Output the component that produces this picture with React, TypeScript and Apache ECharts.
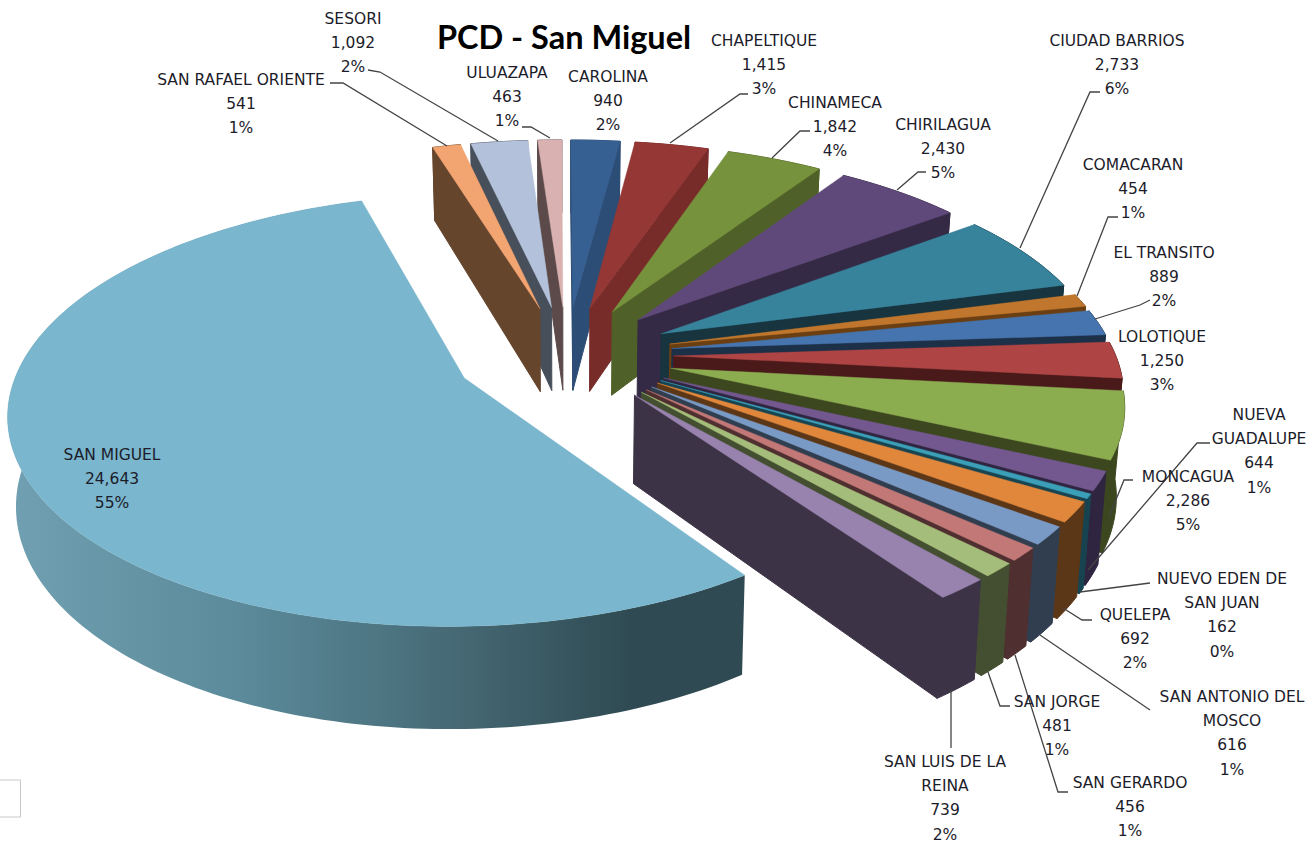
import React, { useEffect, useRef } from "react";
import * as echarts from "echarts";

const names = ["CAROLINA","CHAPELTIQUE","CHINAMECA","CHIRILAGUA","CIUDAD BARRIOS","COMACARAN","EL TRANSITO","LOLOTIQUE","MONCAGUA","NUEVA\nGUADALUPE","NUEVO EDEN DE\nSAN JUAN","QUELEPA","SAN ANTONIO DEL\nMOSCO","SAN GERARDO","SAN JORGE","SAN LUIS DE LA\nREINA","SAN MIGUEL","SAN RAFAEL ORIENTE","SESORI","ULUAZAPA"];
const values = [940,1415,1842,2430,2733,454,889,1250,2286,644,162,692,616,456,481,739,24643,541,1092,463];
const topColors = ["#376092","#953735","#76923c","#5f497a","#38839c","#c0772d","#4674ae","#ae4544","#8cac50","#73588f","#3b9fb8","#e0873c","#7a9ac6","#c27876","#a5bd7a","#9882ae","#7ab6cd","#f3a571","#b3c2da","#d9b1b1"];
const wallColors = ["#2c4d75","#772c2a","#4f6128","#352a45","#17343f","#6b3f12","#1c3048","#4a1a1a","#3c4720","#2f2540","#174450","#5b3717","#313e50","#4f2f30","#434f30","#3d3346","#2f4a52","#66452d","#474f5b","#5c4a4a"];

// label anchors: centre x, first line y, and leader polyline
const labelX = [608,764,835,943,1117,1133,1164,1162,1188,1259,1222,1135,1232,1130,1057,945,112,241,353,507];
const labelY = [76,40,102,124,40,164,252,336,476,414,578,614,696,782,701,761,454,79,18,72];
const leaders: number[][][] = [
  [],
  [[748,94],[740,94],[670,143]],
  [[810,131],[800,131],[772,158]],
  [[926,172],[918,172],[897,190]],
  [[1100,92],[1090,92],[1020,248]],
  [[1118,217],[1108,217],[1077,296]],
  [[1150,300],[1140,305],[1095,319]],
  [],
  [[1133,480],[1124,480],[1109,517]],
  [[1210,443],[1197,443],[1088,570]],
  [[1150,583],[1080,592]],
  [[1092,620],[1082,620],[1063,608]],
  [[1150,710],[1040,635]],
  [[1068,792],[1058,792],[1015,655]],
  [[1010,706],[1000,706],[988,672]],
  [[951,748],[951,690]],
  [],
  [[330,83],[343,83],[447,146]],
  [[368,70],[380,72],[498,141]],
  [[522,127],[531,127],[550,138]],
];

const CX = 566.5, CY = 355, R = 442, EXPLODE = 107, EXPLODE_MAIN = 112, TILT = 0.463, PERSP = 0.000331, H = 86, TAPER = 0.985, SKEW = 0.003;
const total = values.reduce((a, b) => a + b, 0);
const starts: number[] = [];
values.reduce((acc, v, i) => { starts[i] = (acc / total) * Math.PI * 2; return acc + v; }, 0);
const ends = values.map((v, i) => starts[i] + (v / total) * Math.PI * 2);

const project = (X: number, Y: number, bottom: boolean): number[] => {
  const s = 1 / (1 + PERSP * Y);
  let x = CX + X * s - Y * SKEW;
  let y = CY - Y * TILT * s;
  if (bottom) { x = CX + (x - CX) * TAPER; y += H * s; }
  return [x, y];
};
const area = (p: number[][]) => p.reduce((a, q, i) => { const r = p[(i + 1) % p.length]; return a + q[0] * r[1] - r[0] * q[1]; }, 0);

const sliceElements = (i: number) => {
  const a0 = starts[i], a1 = ends[i], mid = (a0 + a1) / 2;
  const isMain = names[i] === "SAN MIGUEL";
  const e = isMain ? EXPLODE_MAIN : EXPLODE;
  const ox = e * Math.sin(mid), oy = e * Math.cos(mid);
  const n = Math.max(3, Math.ceil((a1 - a0) / 0.02));
  const arcT: number[][] = [], arcB: number[][] = [];
  for (let k = 0; k <= n; k++) {
    const t = a0 + ((a1 - a0) * k) / n;
    const X = ox + R * Math.sin(t), Y = oy + R * Math.cos(t);
    arcT.push(project(X, Y, false));
    arcB.push(project(X, Y, true));
  }
  const apexT = project(ox, oy, false), apexB = project(ox, oy, true);
  const children: any[] = [];
  const poly = (points: number[][], fill: any, lineWidth: number) => ({
    type: "polygon", shape: { points }, style: { fill, stroke: typeof fill === "string" ? fill : undefined, lineWidth: typeof fill === "string" ? lineWidth : 0 },
  });
  let outerFill: any = wallColors[i];
  if (isMain) {
    outerFill = { type: "linear", x: 18, y: 0, x2: 740, y2: 0, global: true, colorStops: [
      { offset: 0, color: "#6f9fb0" }, { offset: 0.3, color: "#5c8b9b" }, { offset: 0.6, color: "#466a76" }, { offset: 0.85, color: "#2f4a52" }, { offset: 1, color: "#2f4a52" },
    ] };
  }
  children.push(poly([...arcT, ...arcB.slice().reverse()], outerFill, 1));
  const startWall = [apexT, arcT[0], arcB[0], apexB];
  const endWall = [apexT, arcT[n], arcB[n], apexB];
  if (area(startWall) < 0) children.push(poly(startWall, wallColors[i], 1));
  if (area(endWall) > 0) children.push(poly(endWall, wallColors[i], 1));
  children.push(poly([apexT, ...arcT], topColors[i], 0.4));
  return children;
};

const order = values.map((_, i) => i).sort((a, b) => Math.cos((starts[b] + ends[b]) / 2) - Math.cos((starts[a] + ends[a]) / 2));
const LABEL_FONT = "DejaVu Sans";

export default function App() {
  const ref = useRef<HTMLDivElement>(null);
  useEffect(() => {
    const chart = echarts.init(ref.current!, undefined, { renderer: "svg" });
    const labels: any[] = values.map((v, i) => ({
      type: "text", x: labelX[i], y: labelY[i] - 11.5, z: 20,
      style: {
        text: `${names[i]}\n${v.toLocaleString("en-US")}\n${Math.round((v / total) * 100)}%`,
        fill: "#1c1c2a", font: `15.5px "${LABEL_FONT}"`, align: "center", verticalAlign: "top", lineHeight: 24.3,
      },
    }));
    const lines: any[] = leaders.filter((l) => l.length).map((points) => ({
      type: "polyline", z: 15, shape: { points }, style: { stroke: "#444", lineWidth: 1.3, fill: "none" },
    }));
    chart.setOption({
      animation: false,
      backgroundColor: "#fff",
      graphic: [
        { type: "text", x: 564, y: 36, z: 20, style: { text: "PCD - San Miguel", fill: "#000", font: 'bold 32.5px "Lato"', align: "center", verticalAlign: "middle" } },
        { type: "rect", z: 5, shape: { x: -2, y: 780, width: 22.5, height: 37 }, style: { fill: "#fff", stroke: "#c8c8c8", lineWidth: 1 } },
        ...lines,
        ...labels,
      ],
      series: [{
        type: "custom",
        coordinateSystem: "none",
        silent: true,
        data: order.map((i) => ({ name: names[i], value: [values[i], i] })),
        renderItem: (_p: any, api: any) => ({ type: "group", children: sliceElements(api.value(1)) }),
      }],
    });
    return () => chart.dispose();
  }, []);
  return <div ref={ref} style={{ position: "absolute", left: 0, top: 0, width: 1306, height: 843 }} />;
}
